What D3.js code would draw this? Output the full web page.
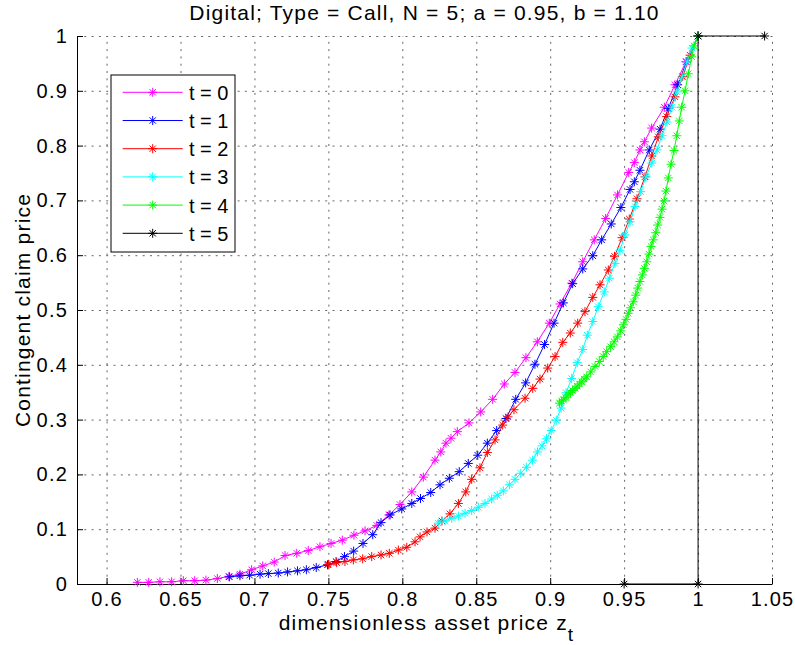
<!DOCTYPE html>
<html>
<head>
<meta charset="utf-8">
<title>Digital; Type = Call</title>
<script src="https://d3js.org/d3.v7.min.js"></script>
<style>
  body { margin: 0; background: #fff; }
  text { font-family: "Liberation Sans", Arial, sans-serif; fill: #000; }
</style>
</head>
<body>
<div id="chart"></div>
<script>
// [z_t, price] pairs, one array per time step
const t0 = [[0.6208,0.003],[0.6285,0.003],[0.6361,0.004],[0.6440,0.004],[0.6519,0.006],[0.6596,0.006],
  [0.6672,0.007],[0.6749,0.010],[0.6828,0.014],[0.6902,0.018],[0.6981,0.026],[0.7056,0.033],[0.7134,0.040],
  [0.7207,0.052],[0.7286,0.056],[0.7364,0.061],[0.7443,0.068],[0.7518,0.074],[0.7594,0.080],[0.7673,0.089],
  [0.7748,0.097],[0.7827,0.107],[0.7910,0.126],[0.7984,0.145],[0.8064,0.168],[0.8142,0.195],[0.8221,0.226],
  [0.8260,0.241],[0.8295,0.257],[0.8329,0.266],[0.8372,0.278],[0.8451,0.294],[0.8530,0.314],[0.8611,0.337],
  [0.8690,0.365],[0.8762,0.386],[0.8836,0.413],[0.8913,0.442],[0.8994,0.476],[0.9066,0.511],[0.9146,0.549],
  [0.9220,0.588],[0.9298,0.628],[0.9375,0.667],[0.9455,0.710],[0.9531,0.751],[0.9569,0.769],[0.9607,0.792],
  [0.9637,0.807],[0.9686,0.832],[0.9772,0.870],[0.9844,0.911],[0.9918,0.953],[1.0,1.0]];

const t1 = [[0.6830,0.013],[0.6902,0.015],[0.6967,0.016],[0.7038,0.018],[0.7094,0.019],[0.7161,0.020],
  [0.7224,0.022],[0.7291,0.024],[0.7351,0.026],[0.7418,0.030],[0.7494,0.035],[0.7552,0.041],[0.7609,0.050],
  [0.7671,0.060],[0.7734,0.074],[0.7800,0.090],[0.7856,0.112],[0.7917,0.126],[0.7996,0.137],[0.8064,0.147],
  [0.8123,0.156],[0.8192,0.167],[0.8255,0.181],[0.8318,0.193],[0.8385,0.205],[0.8446,0.220],[0.8510,0.235],
  [0.8575,0.257],[0.8638,0.280],[0.8701,0.302],[0.8767,0.337],[0.8834,0.367],[0.8897,0.401],[0.8962,0.437],
  [0.9026,0.476],[0.9089,0.513],[0.9152,0.548],[0.9220,0.575],[0.9288,0.599],[0.9348,0.628],[0.9413,0.657],
  [0.9478,0.687],[0.9540,0.720],[0.9569,0.734],[0.9607,0.755],[0.9670,0.792],[0.9743,0.830],[0.9799,0.868],
  [0.9862,0.911],[0.9923,0.953],[1.0,1.0]];

const t2 = [[0.7500,0.036],[0.7556,0.039],[0.7612,0.041],[0.7669,0.044],[0.7732,0.046],[0.7793,0.050],
  [0.7856,0.053],[0.7912,0.056],[0.7973,0.062],[0.8030,0.067],[0.8086,0.077],[0.8120,0.086],[0.8167,0.095],
  [0.8221,0.102],[0.8268,0.115],[0.8322,0.128],[0.8379,0.147],[0.8429,0.168],[0.8469,0.191],[0.8525,0.212],
  [0.8575,0.240],[0.8627,0.263],[0.8679,0.290],[0.8715,0.305],[0.8755,0.318],[0.8830,0.339],[0.8882,0.357],
  [0.8931,0.374],[0.8983,0.394],[0.9033,0.415],[0.9085,0.441],[0.9136,0.458],[0.9186,0.476],[0.9235,0.497],
  [0.9288,0.523],[0.9337,0.546],[0.9393,0.573],[0.9435,0.598],[0.9486,0.632],[0.9535,0.666],[0.9587,0.703],
  [0.9641,0.743],[0.9687,0.781],[0.9731,0.816],[0.9788,0.853],[0.9844,0.889],[0.9896,0.926],[0.9946,0.965],
  [1.0,1.0]];

const t3 = [[0.8243,0.111],[0.8289,0.115],[0.8334,0.120],[0.8379,0.124],[0.8424,0.129],[0.8469,0.134],
  [0.8514,0.140],[0.8559,0.147],[0.8604,0.155],[0.8642,0.162],[0.8683,0.170],[0.8724,0.181],[0.8762,0.191],
  [0.8801,0.202],[0.8839,0.213],[0.8880,0.226],[0.8914,0.241],[0.8945,0.252],[0.8975,0.265],[0.9007,0.280],
  [0.9041,0.299],[0.9074,0.321],[0.9107,0.349],[0.9145,0.375],[0.9183,0.404],[0.9220,0.428],[0.9251,0.454],
  [0.9288,0.479],[0.9325,0.506],[0.9366,0.533],[0.9400,0.558],[0.9438,0.585],[0.9472,0.609],[0.9506,0.637],
  [0.9540,0.661],[0.9574,0.689],[0.9612,0.716],[0.9648,0.743],[0.9687,0.768],[0.9722,0.792],[0.9756,0.818],
  [0.9790,0.843],[0.9824,0.870],[0.9858,0.898],[0.9891,0.925],[0.9925,0.953],[0.9959,0.978],[1.0,1.0]];

const t4 = [[0.9063,0.330],[0.9077,0.334],[0.9089,0.336],[0.9107,0.340],[0.9122,0.345],[0.9137,0.349],
  [0.9152,0.353],[0.9168,0.357],[0.9183,0.361],[0.9198,0.365],[0.9213,0.369],[0.9229,0.374],[0.9247,0.378],
  [0.9274,0.387],[0.9303,0.397],[0.9332,0.406],[0.9359,0.415],[0.9382,0.424],[0.9409,0.433],[0.9432,0.442],
  [0.9454,0.451],[0.9477,0.462],[0.9495,0.473],[0.9513,0.483],[0.9528,0.494],[0.9544,0.504],[0.9562,0.515],
  [0.9578,0.527],[0.9592,0.540],[0.9607,0.552],[0.9623,0.564],[0.9637,0.576],[0.9653,0.588],[0.9668,0.602],
  [0.9682,0.616],[0.9697,0.628],[0.9714,0.641],[0.9727,0.655],[0.9743,0.669],[0.9756,0.684],[0.9770,0.699],
  [0.9783,0.717],[0.9799,0.741],[0.9817,0.766],[0.9837,0.791],[0.9856,0.818],[0.9873,0.845],[0.9889,0.870],
  [0.9912,0.900],[0.9934,0.931],[0.9957,0.962],[0.9973,0.982],[1.0,1.0]];

const t5 = [[0.95,0],[1.0,0],[1.0,1.0],[1.045,1.0]];

const seriesNames = ['t = 0','t = 1','t = 2','t = 3','t = 4','t = 5'];
const seriesColors = ['#ff00ff','#0000ff','#ff0000','#00ffff','#00ff00','#000000'];

const xTicks = [0.6,0.65,0.7,0.75,0.8,0.85,0.9,0.95,1,1.05];
const xTickLabels = ['0.6','0.65','0.7','0.75','0.8','0.85','0.9','0.95','1','1.05'];
const yTicks = [0,0.1,0.2,0.3,0.4,0.5,0.6,0.7,0.8,0.9,1];
const yTickLabels = ['0','0.1','0.2','0.3','0.4','0.5','0.6','0.7','0.8','0.9','1'];

const series = [t0,t1,t2,t3,t4,t5];

let margen = {sup:36, inf:61, izq:77, der:23};
let svgw = 795, svgh = 645;
let vizw = svgw - margen.izq - margen.der;
let vizh = svgh - margen.sup - margen.inf;

const svg = d3.select('#chart').append('svg')
  .attr('width', svgw).attr('height', svgh)
  .style('background', '#fff');

const x = d3.scaleLinear().domain([0.58, 1.05]).range([0, vizw]);
const y = d3.scaleLinear().domain([0, 1]).range([vizh, 0]);

const g = svg.append('g').attr('transform', `translate(${margen.izq},${margen.sup})`);

// dotted grid
const gx = g.append('g').attr('transform', `translate(0,${vizh})`)
  .call(d3.axisBottom(x).tickValues(xTicks).tickSize(-vizh).tickFormat(''));
const gy = g.append('g')
  .call(d3.axisLeft(y).tickValues(yTicks).tickSize(-vizw).tickFormat(''));
[gx, gy].forEach(s => {
  s.select('.domain').remove();
  s.selectAll('line').attr('stroke', '#666').attr('stroke-width', 1).attr('stroke-dasharray', '2,5.3');
});

// axes with inward ticks
const ax = g.append('g').attr('transform', `translate(0,${vizh})`)
  .call(d3.axisBottom(x).tickValues(xTicks).tickFormat((d, i) => xTickLabels[i])
    .tickSizeInner(-6).tickSizeOuter(0).tickPadding(8));
const ay = g.append('g')
  .call(d3.axisLeft(y).tickValues(yTicks).tickFormat((d, i) => yTickLabels[i])
    .tickSizeInner(-6).tickSizeOuter(0).tickPadding(9));
[ax, ay].forEach(s => {
  s.attr('font-size', null).attr('font-family', null);
  s.select('.domain').attr('stroke', '#000').attr('stroke-width', 1);
  s.selectAll('line').attr('stroke', '#000');
  s.selectAll('text').style('font-size', '20px').style('letter-spacing', '1.2px');
});

// asterisk marker like matlab '*'
const star = {
  draw(ctx, size) {
    const r = Math.sqrt(size) / 2, q = r * 0.7071;
    ctx.moveTo(-r, 0); ctx.lineTo(r, 0);
    ctx.moveTo(0, -r); ctx.lineTo(0, r);
    ctx.moveTo(-q, -q); ctx.lineTo(q, q);
    ctx.moveTo(-q, q); ctx.lineTo(q, -q);
  }
};
const marker = d3.symbol().type(star).size(81);

const line = d3.line().x(d => x(d[0])).y(d => y(d[1]));

const plot = g.append('g');
series.forEach((s, i) => {
  const sg = plot.append('g');
  sg.append('path').datum(s)
    .attr('d', line).attr('fill', 'none')
    .attr('stroke', seriesColors[i]).attr('stroke-width', 1);
  sg.selectAll('path.m').data(s).enter().append('path')
    .attr('class', 'm')
    .attr('transform', d => `translate(${x(d[0])},${y(d[1])})`)
    .attr('d', marker)
    .attr('fill', 'none').attr('stroke', seriesColors[i]).attr('stroke-width', 1);
});

// title and axis labels
svg.append('text')
  .attr('x', margen.izq + vizw / 2).attr('y', 20)
  .attr('text-anchor', 'middle')
  .style('font-size', '21px').style('letter-spacing', '1.2px')
  .text('Digital; Type = Call, N = 5; a = 0.95, b = 1.10');

const xl = svg.append('text')
  .attr('x', margen.izq + vizw / 2 + 2).attr('y', 630)
  .attr('text-anchor', 'middle')
  .style('font-size', '21px').style('letter-spacing', '1.2px');
xl.append('tspan').text('dimensionless asset price z');
xl.append('tspan').attr('dy', 11).style('font-size', '19px').text('t');

svg.append('text')
  .attr('transform', `translate(30,${margen.sup + vizh / 2}) rotate(-90)`)
  .attr('text-anchor', 'middle')
  .style('font-size', '21px').style('letter-spacing', '1.2px')
  .text('Contingent claim price');

// legend
const leg = svg.append('g').attr('transform', 'translate(111,75)');
leg.append('rect').attr('width', 124).attr('height', 177)
  .attr('fill', '#fff').attr('stroke', '#000').attr('stroke-width', 1);
seriesNames.forEach((name, i) => {
  const yy = 17.3 + i * 28.2;
  leg.append('line').attr('x1', 11.7).attr('x2', 71.7).attr('y1', yy).attr('y2', yy)
    .attr('stroke', seriesColors[i]).attr('stroke-width', 1);
  leg.append('path').attr('transform', `translate(41.7,${yy})`).attr('d', marker)
    .attr('fill', 'none').attr('stroke', seriesColors[i]).attr('stroke-width', 1);
  leg.append('text').attr('x', 78).attr('y', yy + 7.5)
    .style('font-size', '20px').text(name);
});
</script>
</body>
</html>
